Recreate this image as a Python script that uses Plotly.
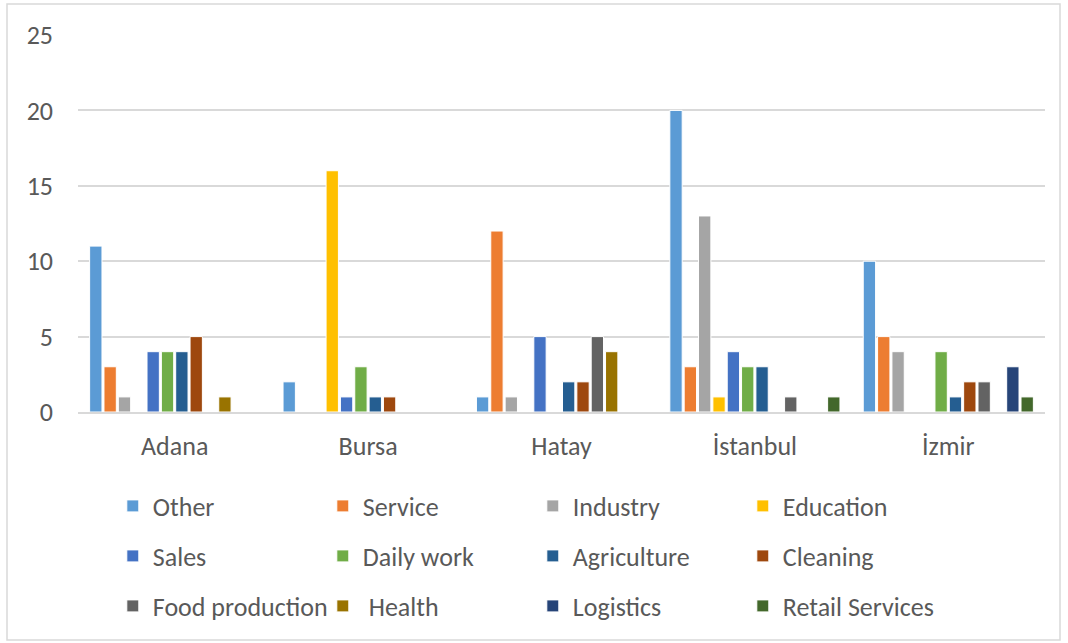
import plotly.graph_objects as go

# Cities on the category axis
cities = ["Adana", "Bursa", "Hatay", "İstanbul", "İzmir"]

# Occupation counts per city (order follows `cities`)
other = [11, 2, 1, 20, 10]
service = [3, 0, 12, 3, 5]
industry = [1, 0, 1, 13, 4]
education = [0, 16, 0, 1, 0]
sales = [4, 1, 5, 4, 0]
daily_work = [4, 3, 0, 3, 4]
agriculture = [4, 1, 2, 3, 1]
cleaning = [5, 1, 2, 0, 2]
food_production = [0, 0, 5, 1, 2]
health = [1, 0, 4, 0, 0]
logistics = [0, 0, 0, 0, 3]
retail_services = [0, 0, 0, 1, 1]

y_ticks = [0, 5, 10, 15, 20, 25]

series = [
    ("Other", other, "#5B9BD5"),
    ("Service", service, "#ED7D31"),
    ("Industry", industry, "#A5A5A5"),
    ("Education", education, "#FFC000"),
    ("Sales", sales, "#4472C4"),
    ("Daily work", daily_work, "#70AD47"),
    ("Agriculture", agriculture, "#255E91"),
    ("Cleaning", cleaning, "#9E480E"),
    ("Food production", food_production, "#636363"),
    (" Health", health, "#997300"),
    ("Logistics", logistics, "#264478"),
    ("Retail Services", retail_services, "#43682B"),
]

FONT = "Carlito, Calibri, 'Liberation Sans', Arial, sans-serif"
TEXT = "#595959"
GRID = "#D9D9D9"

legend_ids = ["legend", "legend2", "legend3"]

fig = go.Figure()
for i, (name, vals, color) in enumerate(series):
    fig.add_trace(go.Bar(
        x=cities, y=vals, name=name,
        marker=dict(color=color, line=dict(color="white", width=1)),
        legend=legend_ids[i // 4],
        hoverinfo="x+y+name",
    ))

W, H = 1068, 643
ml, mr, mt, mb = 78, 23, 35, 231
ph = H - mt - mb


def row_y(px):
    return (H - mb - px) / ph


legend_common = dict(
    orientation="h", xanchor="left", yanchor="middle",
    x=0.036, entrywidth=165, entrywidthmode="pixels",
    font=dict(family=FONT, size=26, color=TEXT),
    bgcolor="rgba(0,0,0,0)", itemclick=False, itemdoubleclick=False,
    tracegroupgap=0,
)

fig.update_layout(
    width=W, height=H,
    margin=dict(l=ml, r=mr, t=mt, b=mb),
    paper_bgcolor="white", plot_bgcolor="white",
    barmode="group", bargap=0.11, bargroupgap=0.14,
    font=dict(family=FONT, color=TEXT),
    legend=dict(legend_common, y=row_y(506)),
    legend2=dict(legend_common, y=row_y(556)),
    legend3=dict(legend_common, y=row_y(606)),
    xaxis=dict(
        showgrid=False, showline=True, linecolor=GRID, linewidth=1.5,
        ticks="", tickfont=dict(family=FONT, size=26, color=TEXT),
        ticklabelstandoff=10,
    ),
    yaxis=dict(
        range=[0, 25], tickvals=y_ticks, showgrid=True, gridcolor=GRID,
        gridwidth=1.5, zeroline=False, showline=False, ticks="",
        tickfont=dict(family=FONT, size=26, color=TEXT),
        ticklabelstandoff=24,
    ),
    shapes=[dict(
        type="rect", xref="paper", yref="paper",
        x0=-(ml - 7) / (W - ml - mr), x1=1 + (mr - 8) / (W - ml - mr),
        y0=-(mb - 3) / ph, y1=1 + (mt - 4) / ph,
        line=dict(color=GRID, width=1.5), layer="below",
    )],
)

fig.write_html("out.html")
